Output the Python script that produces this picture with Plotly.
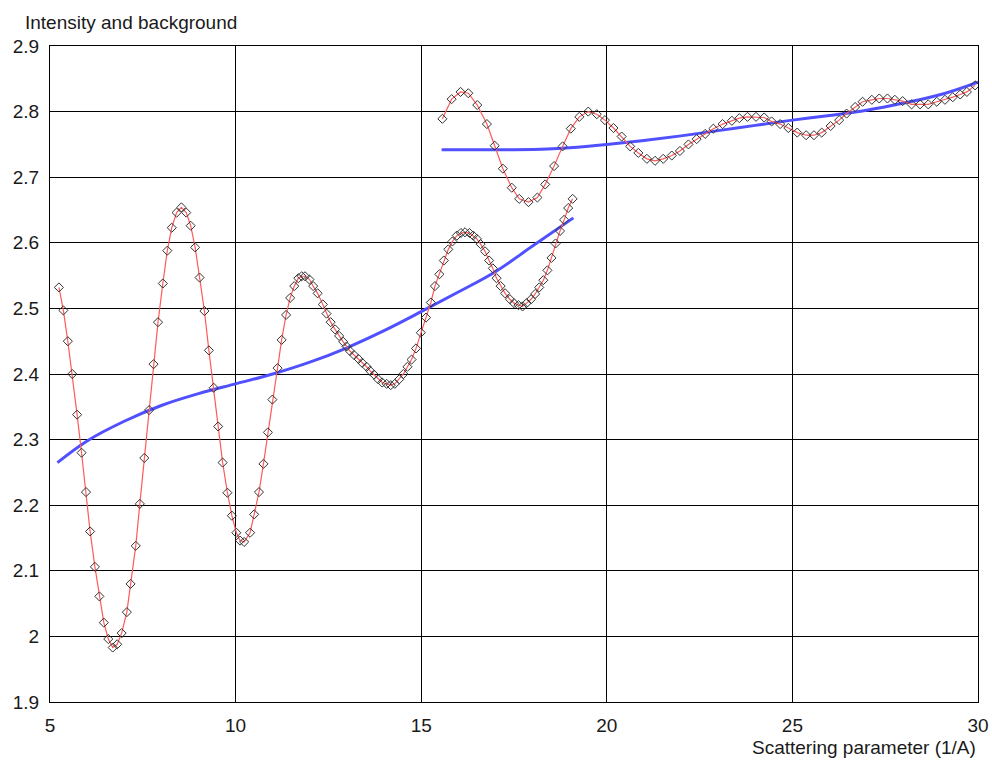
import plotly.graph_objects as go

# Segment 1 (first measurement)
seg1_x = [5.24, 5.36, 5.48, 5.60, 5.73, 5.85, 5.97, 6.08, 6.21, 6.33,
          6.45, 6.57, 6.69, 6.81, 6.93, 7.07, 7.17, 7.31, 7.42, 7.54,
          7.67, 7.79, 7.91, 8.04, 8.16, 8.28, 8.41, 8.54, 8.67, 8.79,
          8.91, 9.03, 9.16, 9.28, 9.41, 9.53, 9.65, 9.78, 9.90, 10.02,
          10.12, 10.23, 10.39, 10.50, 10.63, 10.75, 10.87, 10.99, 11.13, 11.24,
          11.36, 11.47, 11.58, 11.69, 11.78, 11.87, 11.99, 12.09, 12.21, 12.35,
          12.45, 12.56, 12.68, 12.79, 12.90, 12.99, 13.08, 13.19, 13.31, 13.41,
          13.53, 13.62, 13.73, 13.84, 13.95, 14.07, 14.18, 14.29, 14.41, 14.52,
          14.63, 14.74, 14.86, 14.99, 15.13, 15.26, 15.37, 15.49, 15.61, 15.73,
          15.84, 15.96, 16.07, 16.18, 16.30, 16.40, 16.50, 16.60, 16.72, 16.83,
          16.93, 17.03, 17.14, 17.26, 17.39, 17.50, 17.62, 17.73, 17.84, 17.96,
          18.07, 18.18, 18.29, 18.40, 18.51, 18.62, 18.74, 18.85, 18.96, 19.08]
seg1_y = [2.532, 2.497, 2.450, 2.400, 2.338, 2.280, 2.220, 2.160, 2.106, 2.061,
          2.021, 1.996, 1.983, 1.988, 2.005, 2.037, 2.080, 2.138, 2.202, 2.272,
          2.345, 2.415, 2.479, 2.538, 2.588, 2.623, 2.646, 2.654, 2.646, 2.626,
          2.593, 2.547, 2.496, 2.436, 2.379, 2.320, 2.265, 2.219, 2.184, 2.158,
          2.146, 2.144, 2.158, 2.186, 2.220, 2.263, 2.311, 2.361, 2.409, 2.452,
          2.490, 2.516, 2.534, 2.546, 2.549, 2.549, 2.544, 2.534, 2.523, 2.506,
          2.492, 2.479, 2.468, 2.458, 2.449, 2.442, 2.435, 2.429, 2.423, 2.417,
          2.411, 2.405, 2.399, 2.392, 2.387, 2.385, 2.383, 2.385, 2.392, 2.400,
          2.411, 2.422, 2.439, 2.463, 2.486, 2.509, 2.534, 2.552, 2.573, 2.590,
          2.602, 2.611, 2.615, 2.616, 2.615, 2.611, 2.606, 2.598, 2.587, 2.573,
          2.561, 2.546, 2.534, 2.523, 2.514, 2.508, 2.505, 2.503, 2.508, 2.514,
          2.522, 2.532, 2.543, 2.558, 2.577, 2.599, 2.618, 2.635, 2.653, 2.667]

# Segment 2 (second measurement)
seg2_x = [15.57, 15.82, 16.06, 16.27, 16.51, 16.77, 16.98, 17.20, 17.44, 17.64,
          17.89, 18.13, 18.34, 18.58, 18.81, 19.03, 19.26, 19.50, 19.73, 19.95,
          20.18, 20.40, 20.63, 20.85, 21.08, 21.30, 21.52, 21.75, 21.97, 22.20,
          22.42, 22.65, 22.87, 23.12, 23.37, 23.57, 23.79, 24.02, 24.24, 24.44,
          24.67, 24.89, 25.13, 25.37, 25.58, 25.79, 26.03, 26.26, 26.46, 26.69,
          26.89, 27.14, 27.34, 27.56, 27.76, 27.97, 28.21, 28.44, 28.66, 28.89,
          29.11, 29.32, 29.52, 29.70, 29.92]
seg2_y = [2.789, 2.819, 2.830, 2.828, 2.810, 2.781, 2.748, 2.713, 2.684, 2.667,
          2.662, 2.669, 2.689, 2.717, 2.747, 2.774, 2.792, 2.800, 2.796, 2.787,
          2.775, 2.762, 2.747, 2.737, 2.728, 2.725, 2.728, 2.733, 2.740, 2.750,
          2.758, 2.766, 2.774, 2.781, 2.786, 2.790, 2.792, 2.792, 2.791, 2.785,
          2.781, 2.775, 2.768, 2.764, 2.764, 2.768, 2.778, 2.787, 2.797, 2.807,
          2.815, 2.818, 2.820, 2.820, 2.818, 2.816, 2.811, 2.811, 2.811, 2.815,
          2.818, 2.822, 2.826, 2.830, 2.840]

# Backgrounds
bg1_x = [5.2, 6, 7, 8, 9, 10, 11, 12, 13, 14, 15, 16, 17, 18, 19.1]
bg1_y = [2.265, 2.298, 2.328, 2.352, 2.370, 2.385, 2.400, 2.418, 2.440, 2.466,
         2.495, 2.525, 2.556, 2.595, 2.638]
bg2_x = [15.55, 16.5, 17.5, 18.4, 19, 20, 21, 22, 23, 24, 25, 26, 27, 28, 29, 30]
bg2_y = [2.742, 2.742, 2.742, 2.743, 2.745, 2.750, 2.756, 2.763, 2.771, 2.779,
         2.787, 2.794, 2.802, 2.813, 2.826, 2.845]

x_ticks = [5, 10, 15, 20, 25, 30]
y_ticks = [1.9, 2.0, 2.1, 2.2, 2.3, 2.4, 2.5, 2.6, 2.7, 2.8, 2.9]
y_tick_text = ["1.9", "2", "2.1", "2.2", "2.3", "2.4", "2.5", "2.6", "2.7", "2.8", "2.9"]

BLUE = "rgb(80,80,255)"
RED = "rgb(255,90,90)"
MK = "rgb(50,50,50)"

fig = go.Figure()
for bx, by in [(bg1_x, bg1_y), (bg2_x, bg2_y)]:
    fig.add_trace(go.Scatter(x=bx, y=by, mode="lines", line=dict(color=BLUE, width=3, shape="spline"),
                             hoverinfo="skip", showlegend=False))
for sx, sy in [(seg1_x, seg1_y), (seg2_x, seg2_y)]:
    fig.add_trace(go.Scatter(x=sx, y=sy, mode="lines+markers",
                             line=dict(color=RED, width=1.2),
                             marker=dict(symbol="diamond-open", size=7, color=MK, line=dict(width=1, color=MK)),
                             showlegend=False))

font = dict(family="Liberation Sans, Arial, sans-serif", size=19, color="#1a1a1a")
fig.update_layout(
    width=992, height=760,
    margin=dict(l=50, r=14, t=46, b=58),
    paper_bgcolor="white", plot_bgcolor="white",
    font=font,
    xaxis=dict(range=[5, 30], tickvals=x_ticks, showgrid=True, gridcolor="black", gridwidth=1,
               showline=True, linecolor="black", linewidth=1, mirror=True, zeroline=False,
               ticks="", tickfont=font, automargin=False, ticklabelstandoff=6),
    yaxis=dict(range=[1.9, 2.9], tickvals=y_ticks, ticktext=y_tick_text, showgrid=True,
               gridcolor="black", gridwidth=1, showline=True, linecolor="black", linewidth=1,
               mirror=True, zeroline=False, ticks="", tickfont=font, automargin=False,
               ticklabelstandoff=6),
    annotations=[
        dict(text="Intensity and background", xref="paper", yref="paper", x=0, y=1.0,
             xshift=-27, yshift=24, xanchor="left", yanchor="middle", showarrow=False, font=font),
        dict(text="Scattering parameter (1/A)", xref="paper", yref="paper", x=1.0, y=0,
             yshift=-45, xanchor="right", yanchor="middle", showarrow=False, font=font),
    ],
)
fig.write_html("out.html")
